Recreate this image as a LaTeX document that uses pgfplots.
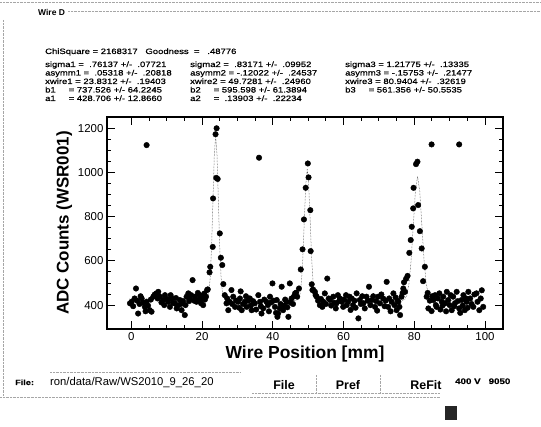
\documentclass[border=0pt]{standalone}
\usepackage{pgfplots}
\pgfplotsset{compat=1.18}
\usepackage{fontspec}
\setmainfont{Liberation Sans}
\newfontfamily\widefont[FakeStretch=1.22,FakeBold=0.6]{Liberation Sans}

% scan data: position [mm], ADC counts
\pgfplotstableread{
x y
-0.4 408
0.05 415
0.5 395
0.9 430
1.3 475
1.6 420
1.9 362
2.3 405
2.6 440
2.9 430
3.3 412
3.8 392
4.0 372
4.3 415
4.3 1123
4.7 398
5.2 377
5.5 425
5.7 370
6.2 438
6.6 448
7.1 453
7.4 430
7.6 460
8.1 438
8.5 412
9.0 423
9.3 400
9.5 445
10.0 428
10.4 415
10.9 392
11.1 445
11.4 430
11.8 410
12.3 408
12.6 432
12.8 385
13.2 398
13.7 423
14.0 405
14.2 377
14.6 418
15.1 355
15.3 400
15.6 438
16.1 453
16.3 418
16.5 430
16.9 445
17.3 513
17.7 420
18.0 438
18.4 415
18.8 455
19.1 425
19.4 445
19.7 408
19.9 430
20.3 400
20.6 452
20.8 425
21.1 438
21.4 468
21.6 471
22.1 548
22.3 573
23.0 663
23.1 882
23.8 1172
24.0 975
24.1 1199
24.4 970
25.0 724
25.3 614
25.7 581
26.0 495
26.4 445
26.9 408
27.1 430
27.4 377
27.8 415
28.3 468
28.5 405
28.8 438
29.3 392
29.6 420
30.2 415
30.5 388
30.7 430
30.9 462
31.2 377
31.6 405
32.1 415
32.4 440
32.6 392
33.0 420
33.5 430
33.8 398
34.0 377
34.4 418
34.9 408
35.3 380
35.9 445
36.1 1066
36.4 415
36.6 395
36.8 362
37.3 385
37.6 425
38.2 415
38.6 400
38.9 372
39.2 438
39.5 412
39.9 498
40.2 420
40.6 392
40.9 365
41.1 423
41.3 347
41.5 362
42.0 385
42.2 405
42.5 483
42.9 377
43.2 398
43.5 425
43.9 415
44.1 390
44.4 347
44.8 498
45.0 412
45.3 430
45.7 405
46.0 440
46.3 453
46.6 456
46.9 438
47.4 475
47.9 561
48.4 652
48.8 787
49.3 930
49.9 1040
50.1 977
50.6 829
50.7 644
51.0 494
51.2 468
51.4 470
51.9 460
52.1 445
52.4 438
52.8 420
53.3 400
53.6 428
54.0 392
54.3 415
54.7 453
55.0 405
55.4 520
55.8 430
56.2 423
56.5 398
57.1 438
57.4 410
57.8 385
58.0 408
58.4 445
58.8 420
59.0 430
59.5 415
59.9 392
60.2 425
60.7 445
60.9 400
61.3 415
61.7 438
62.0 378
62.3 430
62.7 400
63.1 420
63.4 388
63.7 453
64.2 340
64.6 423
64.9 405
65.3 440
65.6 408
66.0 385
66.5 438
66.8 420
67.2 483
67.6 400
68.0 423
68.4 440
68.9 392
69.2 418
69.5 375
69.8 438
70.3 408
70.7 448
71.2 430
71.6 395
71.9 420
72.2 505
72.6 392
72.9 430
73.3 372
73.6 415
74.1 453
74.4 400
74.7 435
75.0 377
75.3 420
75.5 415
75.8 392
76.0 355
76.4 438
76.7 455
76.9 475
77.1 503
77.4 460
77.7 519
78.1 532
78.6 636
79.0 694
79.3 754
79.7 837
79.8 930
80.5 1037
80.9 1048
81.1 852
81.6 734
82.1 656
82.5 508
83.0 573
83.5 438
83.8 455
84.0 385
84.4 420
84.9 373
84.9 1126
85.1 440
85.4 423
85.9 445
86.1 400
86.3 392
86.7 430
87.1 453
87.4 380
87.8 415
88.0 398
88.2 438
88.7 408
89.0 372
89.2 460
89.6 423
90.0 400
90.3 445
90.6 377
91.0 438
91.3 395
91.5 408
92.0 460
92.3 418
92.7 385
92.7 1126
93.0 365
93.4 423
93.7 398
93.9 445
94.3 377
94.6 430
94.8 415
95.1 388
95.3 460
95.8 430
96.2 405
96.7 392
97.0 448
97.6 453
97.9 415
98.4 377
98.8 430
99.1 467
99.5 392
}\scandata

% fitted curve, read at a few points
\pgfplotstableread{
x y
-0.5 428
20.5 428
21.55 437
21.93 461
22.31 528
22.69 668
23.07 876
23.45 1079
23.83 1166
24.21 1079
24.59 876
24.97 668
25.35 528
25.73 461
26.11 437
27.0 422
46.5 420
47.24 427
47.65 446
48.07 501
48.49 613
48.90 781
49.32 946
49.73 1016
50.14 946
50.56 781
50.98 613
51.39 501
51.81 446
52.22 427
53.0 420
76.5 420
77.29 426
77.89 445
78.50 496
79.11 602
79.72 760
80.33 915
80.94 981
81.55 915
82.16 760
82.77 602
83.38 496
83.98 445
84.59 426
85.5 420
99.5 420
}\fitdata

\begin{document}
\begin{tikzpicture}
\path[use as bounding box] (0,0) rectangle (541bp,427bp);

\begin{axis}[
    at={(107bp,98bp)}, anchor=south west,
    scale only axis,
    width=396bp, height=212bp,
    xmin=-6.9, xmax=105.1,
    ymin=292, ymax=1250,
    xtick={0,20,...,100},
    ytick={400,600,...,1200},
    minor x tick num=3,
    minor y tick num=3,
    tick align=inside,
    major tick length=8bp,
    minor tick length=4bp,
    every tick/.style={black, line width=0.9pt},
    axis line style={line width=1.1pt},
    tick label style={font=\fontsize{11.5}{12}\selectfont},
    /pgf/number format/assume math mode=true,
    /pgf/number format/1000 sep={},
    xlabel={\textbf{Wire Position [mm]}},
    ylabel={\textbf{ADC Counts (WSR001)}},
    xlabel style={font=\fontsize{17.5}{19}\selectfont, yshift=2bp},
    ylabel style={font=\fontsize{17}{19}\selectfont, yshift=-1bp},
    clip=false,
]
\addplot[only marks, mark=*, mark size=2.8pt, black] table {\scandata};
\addplot[densely dotted, line width=0.5pt, black!80] table {\fitdata};
\end{axis}

\begin{scope}[shift={(0,427bp)}, x=1bp, y=-1bp]
  % frame of the panel
  \draw[black!35, densely dotted, line width=0.4pt] (0,2) -- (541,2);
  \draw[black!35, densely dotted, line width=0.4pt] (68,11) -- (541,11);
  \draw[black!35, densely dotted, line width=0.4pt] (3,20) -- (3,396);
  \draw[black!35, densely dotted, line width=0.4pt] (0,397) -- (440,397);

  \node[anchor=base west, inner sep=0, font=\fontsize{8.5}{9}\selectfont\bfseries] at (38,16) {Wire D};

  \begin{scope}[every node/.style={anchor=base west, inner sep=0, font=\widefont\fontsize{7.8}{8}\selectfont}]
    \node at (45,54) {ChiSquare = 2168317\quad Goodness\ \ =\ \ \ .48776};
    \node at (45,67) {sigma1 =\ \ .76137 +/-\ \ .07721};
    \node at (45,75.5) {asymm1 =\ \ .05318 +/-\ \ .20818};
    \node at (45,84) {xwire1 = 23.8312 +/-\ \ .19403};
    \node at (45,92.5) {b1\hspace{13pt}= 737.526 +/- 64.2245};
    \node at (45,101) {a1\hspace{13pt}= 428.706 +/- 12.8660};
    \node at (190,67) {sigma2 =\ \ .83171 +/-\ \ .09952};
    \node at (190,75.5) {asymm2 = -.12022 +/-\ \ .24537};
    \node at (190,84) {xwire2 = 49.7281 +/-\ \ .24960};
    \node at (190,92.5) {b2\hspace{13pt}= 595.598 +/- 61.3894};
    \node at (190,101) {a2\hspace{13pt}=\ \ .13903 +/-\ \ .22234};
    \node at (345,67) {sigma3 = 1.21775 +/-\ \ .13335};
    \node at (345,75.5) {asymm3 = -.15753 +/-\ \ .21477};
    \node at (345,84) {xwire3 = 80.9404 +/-\ \ .32619};
    \node at (345,92.5) {b3\hspace{13pt}= 561.356 +/- 50.5535};
  \end{scope}

  % file row
  \draw[black!35, densely dotted, line width=0.4pt] (50,372) -- (240,372);
  \draw[black!35, densely dotted, line width=0.4pt] (252,393) -- (440,393);
  \draw[black!35, densely dotted, line width=0.4pt] (316,375) -- (316,392);
  \draw[black!35, densely dotted, line width=0.4pt] (380,375) -- (380,392);
  \node[anchor=base west, inner sep=0, font=\widefont\fontsize{7.5}{8}\selectfont\bfseries] at (15,385) {File:};
  \node[anchor=base west, inner sep=0, font=\fontsize{11.3}{12}\selectfont] at (50,386) {ron/data/Raw/WS2010\_9\_26\_20};
  \node[anchor=base, inner sep=0, font=\fontsize{12.5}{13}\selectfont\bfseries] at (284,390) {File};
  \node[anchor=base, inner sep=0, font=\fontsize{12.5}{13}\selectfont\bfseries] at (348,390) {Pref};
  \node[anchor=base, inner sep=0, font=\fontsize{12.5}{13}\selectfont\bfseries] at (426,390) {ReFit};
  \node[anchor=base west, inner sep=0, font=\widefont\fontsize{8}{9}\selectfont\bfseries] at (455,384) {400 V\ \ \ 9050};
  \fill[black!85] (445,406) rectangle (457,420);
\end{scope}
\end{tikzpicture}
\end{document}
